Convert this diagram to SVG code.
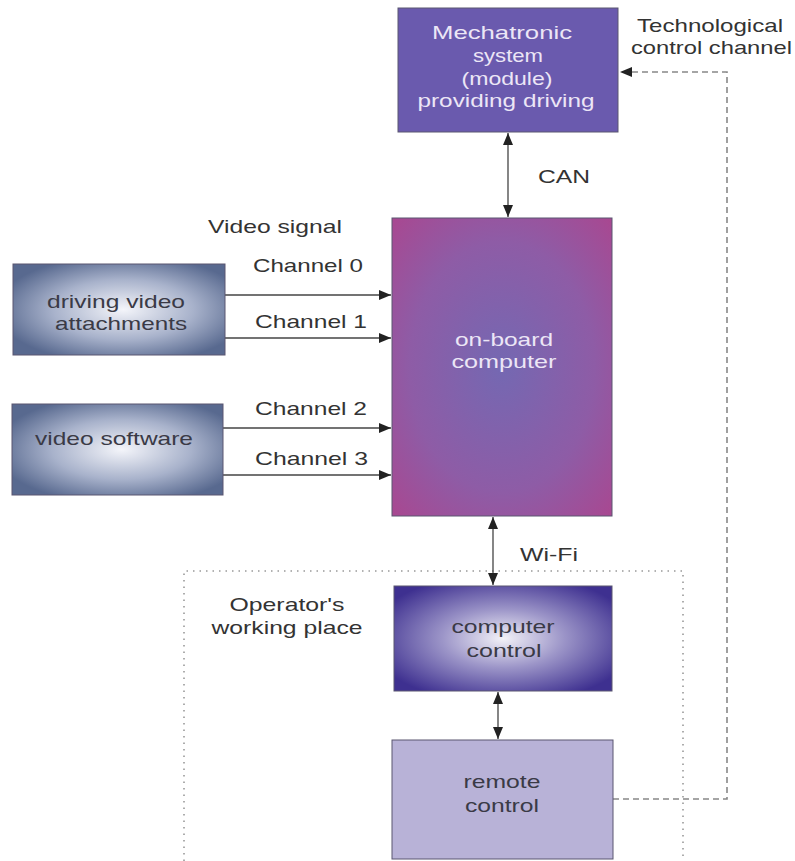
<svg xmlns="http://www.w3.org/2000/svg" width="795" height="861" viewBox="0 0 795 861">
  <style>
    text { font-family: "Liberation Sans", Arial, sans-serif; font-size: 19px; }
    .lbl { fill: #333; }
    .light { fill: #ece6f6; text-anchor: middle; }
    .dark { fill: #3a3a46; text-anchor: middle; }
    .box { stroke: #5a5670; stroke-width: 1; }
    .wire { stroke: #444; stroke-width: 1.3; fill: none; }
    .dash { stroke: #888; stroke-width: 1.6; fill: none; stroke-dasharray: 6 4; }
    .dot { stroke: #999; stroke-width: 1.6; fill: none; stroke-dasharray: 1.5 5; }
  </style>
  <defs>
    <marker id="arr" viewBox="0 0 12 10" refX="12" refY="5" markerWidth="12" markerHeight="10" markerUnits="userSpaceOnUse" orient="auto-start-reverse">
      <path d="M0,0 L12,5 L0,10 z" fill="#222"/>
    </marker>
    <radialGradient id="gOnboard" cx="0.5" cy="0.5" r="0.7">
      <stop offset="0" stop-color="#7468b2"/>
      <stop offset="0.6" stop-color="#8e5ca6"/>
      <stop offset="1" stop-color="#a84891"/>
    </radialGradient>
    <radialGradient id="gVideo" cx="0.52" cy="0.5" r="0.6">
      <stop offset="0" stop-color="#f4f5fa"/>
      <stop offset="0.55" stop-color="#a8b2cb"/>
      <stop offset="1" stop-color="#58698f"/>
    </radialGradient>
    <radialGradient id="gComp" cx="0.5" cy="0.5" r="0.62">
      <stop offset="0" stop-color="#f3f2f8"/>
      <stop offset="0.45" stop-color="#9c95c8"/>
      <stop offset="1" stop-color="#3e3090"/>
    </radialGradient>
  </defs>

  <!-- operator's working place boundary -->
  <g id="operator-area">
    <path class="dot" d="M184,861 V571 H683 V861"/>
    <text class="lbl" x="287" y="611" text-anchor="middle" textLength="115" lengthAdjust="spacingAndGlyphs">Operator's</text>
    <text class="lbl" x="287" y="634" text-anchor="middle" textLength="151" lengthAdjust="spacingAndGlyphs">working place</text>
  </g>

  <g id="connectors">
    <line class="wire" x1="508" y1="133" x2="508" y2="217" marker-start="url(#arr)" marker-end="url(#arr)"/>
    <line class="wire" x1="225" y1="295" x2="391" y2="295" marker-end="url(#arr)"/>
    <line class="wire" x1="225" y1="338" x2="391" y2="338" marker-end="url(#arr)"/>
    <line class="wire" x1="223" y1="428" x2="391" y2="428" marker-end="url(#arr)"/>
    <line class="wire" x1="223" y1="475" x2="391" y2="475" marker-end="url(#arr)"/>
    <line class="wire" x1="493" y1="517" x2="493" y2="585" marker-start="url(#arr)" marker-end="url(#arr)"/>
    <line class="wire" x1="498" y1="692" x2="498" y2="739" marker-start="url(#arr)" marker-end="url(#arr)"/>
    <path class="dash" d="M613,799 H727 V72 H620" marker-end="url(#arr)"/>
    <text class="lbl" x="538" y="183" textLength="52" lengthAdjust="spacingAndGlyphs">CAN</text>
    <text class="lbl" x="208" y="233" textLength="134" lengthAdjust="spacingAndGlyphs">Video signal</text>
    <text class="lbl" x="253" y="272" textLength="110" lengthAdjust="spacingAndGlyphs">Channel 0</text>
    <text class="lbl" x="255" y="328" textLength="112" lengthAdjust="spacingAndGlyphs">Channel 1</text>
    <text class="lbl" x="255" y="415" textLength="112" lengthAdjust="spacingAndGlyphs">Channel 2</text>
    <text class="lbl" x="255" y="465" textLength="113" lengthAdjust="spacingAndGlyphs">Channel 3</text>
    <text class="lbl" x="520" y="561" textLength="58" lengthAdjust="spacingAndGlyphs">Wi-Fi</text>
    <text class="lbl" x="637" y="32" textLength="146" lengthAdjust="spacingAndGlyphs">Technological</text>
    <text class="lbl" x="631" y="54" textLength="161" lengthAdjust="spacingAndGlyphs">control channel</text>
  </g>

  <g id="mechatronic">
    <rect class="box" x="398" y="8" width="220" height="124" fill="#6a5aae"/>
    <text class="light" x="502" y="39" textLength="140" lengthAdjust="spacingAndGlyphs">Mechatronic</text>
    <text class="light" x="508" y="62" textLength="70" lengthAdjust="spacingAndGlyphs">system</text>
    <text class="light" x="507" y="85" textLength="91" lengthAdjust="spacingAndGlyphs">(module)</text>
    <text class="light" x="506" y="107" textLength="177" lengthAdjust="spacingAndGlyphs">providing driving</text>
  </g>

  <g id="onboard">
    <rect class="box" x="392" y="218" width="220" height="298" fill="url(#gOnboard)"/>
    <text class="light" x="504" y="346" textLength="98" lengthAdjust="spacingAndGlyphs">on-board</text>
    <text class="light" x="504" y="368" textLength="105" lengthAdjust="spacingAndGlyphs">computer</text>
  </g>

  <g id="driving-video">
    <rect class="box" x="13" y="264" width="212" height="91" fill="url(#gVideo)"/>
    <text class="dark" x="116" y="308" textLength="138" lengthAdjust="spacingAndGlyphs">driving video</text>
    <text class="dark" x="121" y="330" textLength="132" lengthAdjust="spacingAndGlyphs">attachments</text>
  </g>

  <g id="video-software">
    <rect class="box" x="12" y="404" width="211" height="91" fill="url(#gVideo)"/>
    <text class="dark" x="114" y="445" textLength="158" lengthAdjust="spacingAndGlyphs">video software</text>
  </g>

  <g id="computer-control">
    <rect class="box" x="394" y="586" width="218" height="105" fill="url(#gComp)"/>
    <text class="dark" x="503" y="633" textLength="103" lengthAdjust="spacingAndGlyphs">computer</text>
    <text class="dark" x="504" y="657" textLength="75" lengthAdjust="spacingAndGlyphs">control</text>
  </g>

  <g id="remote-control">
    <rect class="box" x="392" y="740" width="221" height="119" fill="#b8b2d7" stroke="#9a94b8"/>
    <text class="dark" x="502" y="788" textLength="77" lengthAdjust="spacingAndGlyphs">remote</text>
    <text class="dark" x="502" y="812" textLength="74" lengthAdjust="spacingAndGlyphs">control</text>
  </g>
</svg>
